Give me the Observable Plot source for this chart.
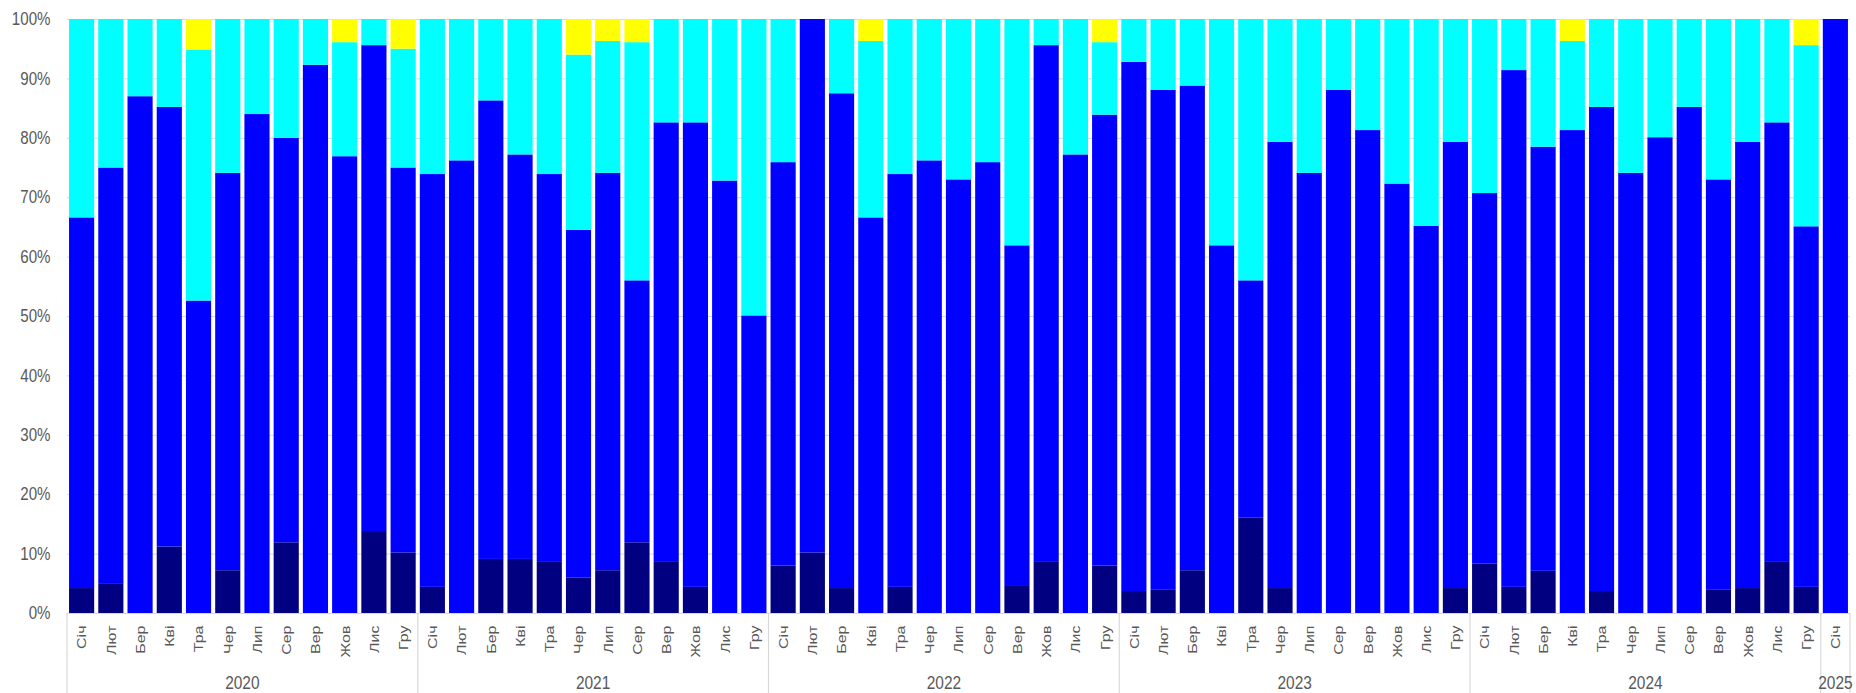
<!DOCTYPE html>
<html>
<head>
<meta charset="utf-8">
<script src="https://cdn.jsdelivr.net/npm/d3@7"></script>
<script src="https://cdn.jsdelivr.net/npm/@observablehq/plot@0.6"></script>
<style>
  body { margin: 0; background: #fff; }
  #chart svg { display: block; }
</style>
</head>
<body>
<div id="chart"></div>
<script>
// ---- Data ----
const months = ["Січ","Лют","Бер","Кві","Тра","Чер","Лип","Сер","Вер","Жов","Лис","Гру"];
const years = [2020, 2021, 2022, 2023, 2024, 2025];
const monthsPerYear = [12, 12, 12, 12, 12, 1];
const yTicks = [0, 10, 20, 30, 40, 50, 60, 70, 80, 90, 100];

const seriesNames = ["Серія 1", "Серія 2", "Серія 3", "Серія 4"];
const seriesColors = ["#000080", "#0000ff", "#00ffff", "#ffff00"];

// shares, % (2020 Jan ... 2025 Jan)
const seriesNavy = [
  4.2, 4.9, 0, 11.2, 0, 7.2, 0, 11.9, 0, 0, 13.8, 10.2,
  4.4, 0, 9.1, 9.1, 8.6, 6.0, 7.2, 11.9, 8.6, 4.4, 0, 0,
  8.0, 10.2, 4.2, 0, 4.4, 0, 0, 0, 4.7, 8.6, 0, 8.0,
  3.7, 3.9, 7.2, 0, 16.1, 4.2, 0, 0, 0, 0, 0, 4.2,
  8.3, 4.4, 7.1, 0, 3.7, 0, 0, 0, 3.9, 4.2, 8.6, 4.4,
  0
];
const seriesBlue = [
  62.4, 70.1, 87.0, 74.0, 52.6, 66.9, 84.0, 68.1, 92.3, 76.9, 81.8, 64.8,
  69.5, 76.2, 77.2, 68.1, 65.3, 58.5, 66.9, 44.1, 74.0, 78.2, 72.8, 50.1,
  67.9, 89.8, 83.3, 66.6, 69.5, 76.2, 73.0, 75.9, 57.2, 87.0, 77.2, 75.9,
  89.1, 84.2, 81.6, 61.9, 39.9, 75.1, 74.1, 88.1, 81.3, 72.3, 65.2, 75.1,
  62.4, 87.0, 71.4, 81.3, 81.5, 74.1, 80.1, 85.2, 69.1, 75.1, 74.0, 60.7,
  100
];
const seriesCyan = [
  33.4, 25.0, 13.0, 14.8, 42.2, 25.9, 16.0, 20.0, 7.7, 19.2, 4.4, 20.0,
  26.1, 23.8, 13.7, 22.8, 26.1, 29.5, 22.2, 40.1, 17.4, 17.4, 27.2, 49.9,
  24.1, 0, 12.5, 29.7, 26.1, 23.8, 27.0, 24.1, 38.1, 4.4, 22.8, 12.2,
  7.2, 11.9, 11.2, 38.1, 44.0, 20.7, 25.9, 11.9, 18.7, 27.7, 34.8, 20.7,
  29.3, 8.6, 21.5, 15.0, 14.8, 25.9, 19.9, 14.8, 27.0, 20.7, 17.4, 30.5,
  0
];
const seriesYellow = [
  0, 0, 0, 0, 5.2, 0, 0, 0, 0, 3.9, 0, 5.0,
  0, 0, 0, 0, 0, 6.0, 3.7, 3.9, 0, 0, 0, 0,
  0, 0, 0, 3.7, 0, 0, 0, 0, 0, 0, 0, 3.9,
  0, 0, 0, 0, 0, 0, 0, 0, 0, 0, 0, 0,
  0, 0, 0, 3.7, 0, 0, 0, 0, 0, 0, 0, 4.4,
  0
];

// ---- Build table ----
const periods = [];
years.forEach((yr, yi) => {
  for (let m = 0; m < monthsPerYear[yi]; m++) {
    periods.push({ key: `${yr}-${m + 1}`, year: yr, label: months[m] });
  }
});
const keys = periods.map(p => p.key);
const labelByKey = new Map(periods.map(p => [p.key, p.label]));
const allSeries = [seriesNavy, seriesBlue, seriesCyan, seriesYellow];
const table = [];
periods.forEach((p, i) => {
  allSeries.forEach((arr, s) => {
    table.push({ key: p.key, series: seriesNames[s], value: arr[i] });
  });
});

const FONT = "'Liberation Sans', Arial, Helvetica, sans-serif";
const GREY = "#595959";
const LINE = "#d9d9d9";

const plot = Plot.plot({
  width: 1856,
  height: 693,
  marginLeft: 67,
  marginRight: 6,
  marginTop: 19,
  marginBottom: 80,
  style: { fontFamily: FONT, background: "#fff", overflow: "visible" },
  x: { domain: keys, paddingInner: 0.14, paddingOuter: 0.07, round: false, axis: null },
  y: { domain: [0, 100], axis: null, clamp: true },
  color: { domain: seriesNames, range: seriesColors },
  marks: [
    Plot.gridY(yTicks, { stroke: LINE, strokeOpacity: 1 }),
    Plot.barY(table, { x: "key", y: "value", fill: "series" }),
    Plot.ruleY([0], { stroke: LINE, strokeWidth: 1.2 }),
    Plot.axisY(yTicks, {
      tickSize: 0, tickPadding: 17, label: null,
      tickFormat: d => d + "%", fontSize: 18, fill: GREY
    }),
    Plot.axisX({
      tickRotate: -90, tickSize: 0, tickPadding: 12, label: null,
      tickFormat: k => labelByKey.get(k), fontSize: 16, fill: GREY
    })
  ]
});

document.getElementById("chart").appendChild(plot);

// ---- Horizontal compression of labels (narrow look of the original) ----
const svg = d3.select(plot);
svg.selectAll("text").each(function () {
  const t = this.getAttribute("transform") || "";
  const m = t.match(/^\s*(translate\([^)]*\))(.*)$/);
  if (!m) return;
  const rotated = /rotate/.test(m[2]);
  const s = rotated ? 0.85 : 0.84;
  this.setAttribute("transform", `${m[1]} scale(${s},1)${m[2]}`);
});

// ---- Year group separators and labels, from the x band scale ----
const xs = plot.scale("x");
const gap = xs.step - xs.bandwidth;
const yAxis = 693 - 80;
const groups = years.map((yr, yi) => {
  const ks = periods.filter(p => p.year === yr).map(p => p.key);
  const x0 = xs.apply(ks[0]) - gap / 2;
  const x1 = xs.apply(ks[ks.length - 1]) + xs.bandwidth + gap / 2;
  return { yr, x0, x1 };
});
const g = svg.append("g");
const bounds = groups.map(d => d.x0).concat([groups[groups.length - 1].x1]);
g.selectAll("line").data(bounds).join("line")
  .attr("x1", d => d).attr("x2", d => d)
  .attr("y1", yAxis).attr("y2", 693)
  .attr("stroke", LINE).attr("stroke-width", 1.2);
g.selectAll("text").data(groups).join("text")
  .attr("transform", d => `translate(${(d.x0 + d.x1) / 2},689) scale(0.86,1)`)
  .attr("text-anchor", "middle")
  .attr("font-size", 18)
  .attr("font-family", FONT)
  .attr("fill", GREY)
  .text(d => d.yr);
</script>
</body>
</html>
